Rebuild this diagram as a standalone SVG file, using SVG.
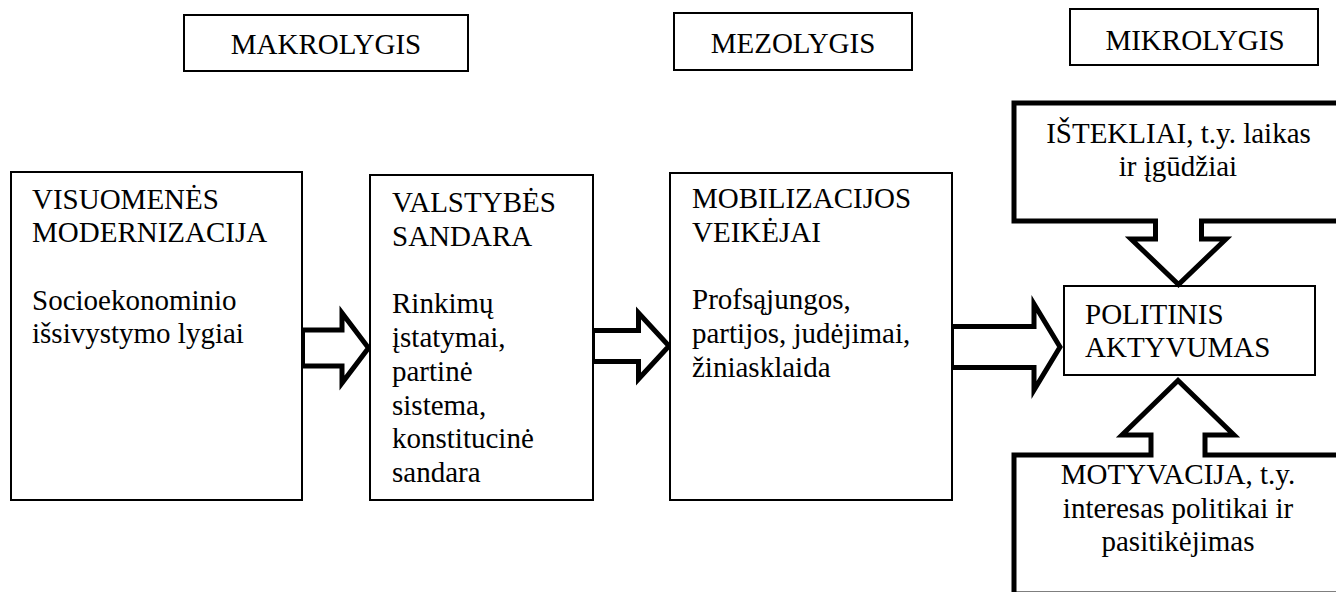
<svg xmlns="http://www.w3.org/2000/svg" width="1336" height="592" viewBox="0 0 1336 592">
<style>
text{font-family:"Liberation Serif","Times New Roman",serif;font-size:29px;fill:#000}
.box{fill:#fff;stroke:#000;stroke-width:2}
.thick{fill:#fff;stroke:#000;stroke-width:5;stroke-linejoin:miter}
.c{text-anchor:middle}
</style>
<rect width="1336" height="592" fill="#fff"/>
<g id="hdr-makro"><rect class="box" x="184" y="15" width="284" height="56"/><text class="c" x="326" y="54">MAKROLYGIS</text></g>
<g id="hdr-mezo"><rect class="box" x="674" y="13" width="238" height="57"/><text class="c" x="793" y="53">MEZOLYGIS</text></g>
<g id="hdr-mikro"><rect class="box" x="1070" y="9" width="248" height="56"/><text class="c" x="1195" y="50">MIKROLYGIS</text></g>
<g id="connectors">
<path class="thick" d="M302.5,330 H342 V313 L368.5,348 L342,383 V366 H302.5 Z"/>
<path class="thick" d="M592.5,330.5 H638.5 V313 L669,346 L638.5,379 V361.5 H592.5 Z"/>
<path class="thick" d="M951.5,326.5 H1034 V304 L1060,347 L1034,390 V367.5 H951.5 Z"/>
</g>
<g id="n-visuomenes"><rect class="box" x="11" y="172" width="291" height="328"/>
<text x="32" y="208.5">VISUOMENĖS</text><text x="32" y="242.2">MODERNIZACIJA</text><text x="32" y="309.6">Socioekonominio</text><text x="32" y="343.3">išsivystymo lygiai</text></g>
<g id="n-valstybes"><rect class="box" x="370" y="175" width="223" height="325"/>
<text x="392" y="211.7">VALSTYBĖS</text><text x="392" y="245.5">SANDARA</text><text x="392" y="313">Rinkimų</text><text x="392" y="346.9">įstatymai,</text><text x="392" y="380.7">partinė</text><text x="392" y="414.5">sistema,</text><text x="392" y="448.3">konstitucinė</text><text x="392" y="482">sandara</text></g>
<g id="n-mobilizacijos"><rect class="box" x="670" y="173" width="282" height="327"/>
<text x="692" y="208.3">MOBILIZACIJOS</text><text x="692" y="242">VEIKĖJAI</text><text x="692" y="309.4">Profsąjungos,</text><text x="692" y="343.1">partijos, judėjimai,</text><text x="692" y="376.8">žiniasklaida</text></g>
<g id="n-politinis"><rect class="box" x="1064" y="286" width="251" height="89"/>
<text x="1085" y="323.5">POLITINIS</text><text x="1085" y="357">AKTYVUMAS</text></g>
<g id="n-istekliai"><path class="thick" d="M1014,103 H1345 V221 H1201.5 V239 H1226 L1178.5,284.5 L1131,239 H1155.5 V221 H1014 Z"/>
<text class="c" x="1178.5" y="142.5">IŠTEKLIAI, t.y. laikas</text><text class="c" x="1178" y="176">ir įgūdžiai</text></g>
<g id="n-motyvacija"><path class="thick" d="M1014,455 H1151 V435 H1122 L1178,380.5 L1234,435 H1205 V455 H1345 V594 H1014 Z"/>
<text class="c" x="1178" y="484">MOTYVACIJA, t.y.</text><text class="c" x="1178" y="517.5">interesas politikai ir</text><text class="c" x="1178" y="551">pasitikėjimas</text></g>
</svg>
